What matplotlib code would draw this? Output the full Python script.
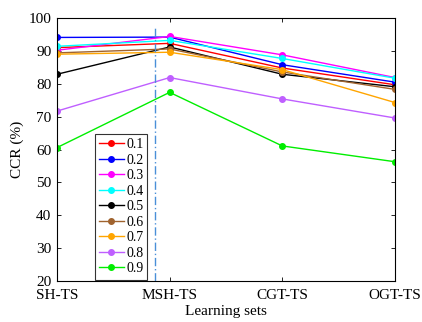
import matplotlib
matplotlib.use("Agg")
import matplotlib.pyplot as plt

categories = ["SH-TS", "MSH-TS", "CGT-TS", "OGT-TS"]
labels = ["0.1", "0.2", "0.3", "0.4", "0.5", "0.6", "0.7", "0.8", "0.9"]
s01 = [91.0, 92.3, 84.8, 79.7]
s02 = [94.1, 94.2, 85.8, 80.5]
s03 = [90.2, 94.4, 88.8, 81.9]
s04 = [91.4, 93.2, 87.7, 81.7]
s05 = [82.9, 91.2, 82.9, 79.1]
s06 = [89.4, 90.6, 83.6, 78.3]
s07 = [89.0, 89.6, 84.3, 74.3]
s08 = [71.7, 81.9, 75.4, 69.6]
s09 = [60.6, 77.4, 61.1, 56.3]
series = [s01, s02, s03, s04, s05, s06, s07, s08, s09]
colors = ["#ff0000", "#0000ff", "#ff00ff", "#00ffff", "#000000",
          "#a0632e", "#ffa500", "#bf5fff", "#00ee00"]
yticks = [20, 30, 40, 50, 60, 70, 80, 90, 100]

plt.rcParams["font.family"] = ["Liberation Serif", "DejaVu Serif"]
fig = plt.figure(figsize=(4.22, 3.22), dpi=100)
ax = fig.add_axes([0.135, 0.127, 0.801, 0.817])
x = list(range(len(categories)))
for lab, vals, c in zip(labels, series, colors):
    ax.plot(x, vals, "-o", color=c, lw=1.0, ms=4, label=lab)

ax.axvline(0.87, ymax=0.97, color="#4a8fd8", lw=1.0, ls=(0, (6, 2, 1, 2)))
ax.set_xlim(0, 3)
ax.set_ylim(20, 100)
ax.set_xticks(x)
ax.set_xticklabels(categories, fontsize=11)
ax.set_yticks(yticks)
ax.set_yticklabels([str(v) for v in yticks], fontsize=11)
ax.tick_params(direction="in", top=True, right=True, length=3, width=0.6, pad=4)
ax.tick_params(axis="x", pad=6)
for sp in ax.spines.values():
    sp.set_linewidth(0.8)
ax.set_xlabel("Learning sets", fontsize=11, labelpad=2)
ax.set_ylabel("CCR (%)", fontsize=11, labelpad=3)
leg = ax.legend(loc="lower left", bbox_to_anchor=(0.112, 0.006), fontsize=10,
                frameon=True, fancybox=False, edgecolor="black",
                handlelength=1.8, handletextpad=0.15, labelspacing=0.18,
                borderpad=0.3, borderaxespad=0.0)
leg.get_frame().set_linewidth(0.8)
fig.savefig("out.png", dpi=100)
